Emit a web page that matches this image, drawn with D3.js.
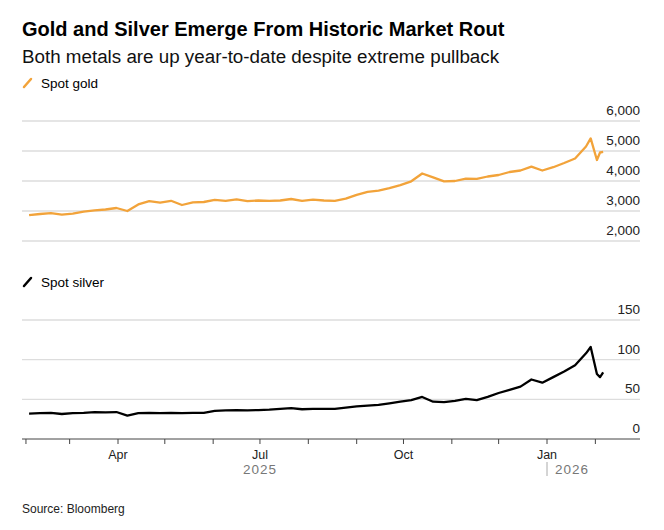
<!DOCTYPE html>
<html lang="en">
<head>
<meta charset="UTF-8">
<script src="https://d3js.org/d3.v7.min.js"></script>
<style>
  body { margin: 0; background: #fff; }
  text { font-family: "Liberation Sans", Arial, sans-serif; }
</style>
</head>
<body>
<script>
// weekly-ish closes
const dates = ["2025-02-03","2025-02-10","2025-02-17","2025-02-24","2025-03-03","2025-03-10","2025-03-17","2025-03-24","2025-03-31","2025-04-07","2025-04-14","2025-04-21","2025-04-28","2025-05-05","2025-05-12","2025-05-19","2025-05-26","2025-06-02","2025-06-09","2025-06-16","2025-06-23","2025-06-30","2025-07-07","2025-07-14","2025-07-21","2025-07-28","2025-08-04","2025-08-11","2025-08-18","2025-08-25","2025-09-01","2025-09-08","2025-09-15","2025-09-22","2025-09-29","2025-10-06","2025-10-13","2025-10-20","2025-10-27","2025-11-03","2025-11-10","2025-11-17","2025-11-24","2025-12-01","2025-12-08","2025-12-15","2025-12-22","2025-12-29","2026-01-05","2026-01-12","2026-01-19","2026-01-26","2026-01-29","2026-02-02","2026-02-04","2026-02-06"];
const gold = [2860,2900,2930,2880,2910,2980,3020,3050,3100,3000,3220,3330,3280,3340,3200,3290,3300,3370,3340,3390,3330,3350,3340,3350,3400,3340,3380,3350,3340,3410,3540,3640,3680,3760,3860,3990,4250,4120,3990,4000,4080,4070,4150,4200,4300,4350,4480,4350,4460,4600,4750,5150,5420,4700,4950,4970];
const silver = [32,32.5,32.8,31.5,32.5,33,34,33.5,34,29.5,32.5,33,32.5,32.8,32.5,33,33,35.5,36,36.5,36,36.5,37,38,39,37.5,38,38,38,39.5,41,42,43,45,47,49,53,47,46.5,48,50.5,49,53,58,62,66,75,71,78,85,93,108,116,82,78,84];

const yearLabels = [["2025-07-01","2025"],["2026-01-01","2026"]];

const W = 664, H = 530;
const svg = d3.select("body").append("svg").attr("width", W).attr("height", H);
const parse = d3.utcParse("%Y-%m-%d");
const rows = dates.map((d, i) => ({date: parse(d), gold: gold[i], silver: silver[i]}));

const x = d3.scaleUtc().domain([parse("2025-04-01"), parse("2026-01-01")]).range([118, 547]);
const xLeft = 22, xRight = 640;
const yG = d3.scaleLinear().domain([2000, 6000]).range([241, 121]);
const yS = d3.scaleLinear().domain([0, 150]).range([439, 320]);

svg.append("text").attr("x", 22).attr("y", 36).attr("font-size", 20).attr("font-weight", "bold")
  .attr("fill", "#000").text("Gold and Silver Emerge From Historic Market Rout");
svg.append("text").attr("x", 22).attr("y", 63).attr("font-size", 18.8).attr("fill", "#111")
  .text("Both metals are up year-to-date despite extreme pullback");

function legend(y, color, label) {
  svg.append("line").attr("x1", 24).attr("x2", 31).attr("y1", y + 4).attr("y2", y - 4)
    .attr("stroke", color).attr("stroke-width", 2.5).attr("stroke-linecap", "round");
  svg.append("text").attr("x", 41).attr("y", y + 5).attr("font-size", 13.5).attr("fill", "#000").text(label);
}
legend(83, "#f2a33a", "Spot gold");
legend(282, "#000", "Spot silver");

function panel(y, ticks, col, color, isBottom) {
  const g = svg.append("g");
  g.selectAll("line.grid").data(ticks).join("line")
    .attr("x1", xLeft).attr("x2", xRight).attr("y1", d => y(d)).attr("y2", d => y(d))
    .attr("stroke", d => isBottom && d === 0 ? "#444" : "#ddd").attr("stroke-width", d => isBottom && d === 0 ? 1 : 1.3);
  g.selectAll("text").data(ticks).join("text")
    .attr("x", xRight).attr("y", d => y(d) - 6).attr("text-anchor", "end")
    .attr("font-size", 13.5).attr("fill", "#222").text(d3.format(","));
  const line = d3.line().x(d => x(d.date)).y(d => y(d[col]));
  svg.append("path").datum(rows).attr("d", line).attr("fill", "none")
    .attr("stroke", color).attr("stroke-width", 2.3).attr("stroke-linejoin", "round");
}
panel(yG, [2000, 3000, 4000, 5000, 6000], "gold", "#f2a33a", false);
panel(yS, [0, 50, 100, 150], "silver", "#000", true);

// x axis
const xa = svg.append("g").attr("transform", "translate(0,439)");
const months = d3.utcMonth.range(parse("2025-02-01"), parse("2026-03-01"));
xa.selectAll("line").data(months).join("line")
  .attr("x1", d => x(d)).attr("x2", d => x(d)).attr("y1", 0).attr("y2", 5).attr("stroke", "#444");
const fmt = d3.utcFormat("%b");
xa.selectAll("text").data(months.filter(d => d.getUTCMonth() % 3 === 0)).join("text")
  .attr("x", d => x(d)).attr("y", 20).attr("text-anchor", "middle").attr("font-size", 12.5).attr("fill", "#222")
  .text(fmt);
yearLabels.forEach(([d, t]) => {
  const xx = x(parse(d));
  if (t === "2026") {
    svg.append("line").attr("x1", xx).attr("x2", xx).attr("y1", 462).attr("y2", 476).attr("stroke", "#aaa");
    svg.append("text").attr("x", xx + 8).attr("y", 474).attr("font-size", 13.5).attr("fill", "#777")
      .attr("letter-spacing", 1).text(t);
  } else {
    svg.append("text").attr("x", xx).attr("y", 474).attr("text-anchor", "middle").attr("font-size", 13.5)
      .attr("fill", "#777").attr("letter-spacing", 1).text(t);
  }
});

svg.append("text").attr("x", 22).attr("y", 513).attr("font-size", 12).attr("fill", "#222").text("Source: Bloomberg");
</script>
</body>
</html>
